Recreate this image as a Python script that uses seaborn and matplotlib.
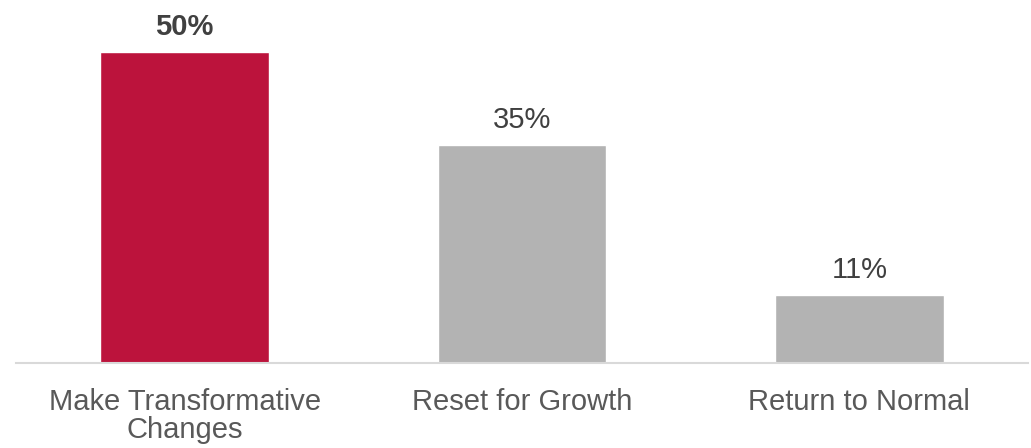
import matplotlib
matplotlib.use("Agg")
import matplotlib.pyplot as plt
import seaborn as sns
import pandas as pd

categories = ["Make Transformative\nChanges", "Reset for Growth", "Return to Normal"]
values = [50, 35, 11]
labels = ["50%", "35%", "11%"]
colors = ["#BC133C", "#B3B3B3", "#B3B3B3"]

sns.set_theme(style="white")
plt.rcParams["font.family"] = ["Liberation Sans", "DejaVu Sans"]

df = pd.DataFrame({"cat": categories, "val": values})

fig = plt.figure(figsize=(10.31, 4.48), dpi=100)
ax = fig.add_axes([16 / 1031, 85 / 448, (1028 - 16) / 1031, 363 / 448])
sns.barplot(data=df, x="cat", y="val", hue="cat", palette=colors, width=0.5,
            legend=False, ax=ax, saturation=1)

ax.set_xlim(-0.5, 2.5)
ax.set_ylim(0, 58.4)
ax.set_xlabel("")
ax.set_ylabel("")
ax.set_yticks([])
for s in ["top", "left", "right"]:
    ax.spines[s].set_visible(False)
ax.spines["bottom"].set_color("#D9D9D9")
ax.spines["bottom"].set_linewidth(1.5)
ax.tick_params(axis="x", length=0, pad=18, labelsize=21, labelcolor="#595959")
for t in ax.get_xticklabels():
    t.set_linespacing(1.0)

for i, (v, lab) in enumerate(zip(values, labels)):
    ax.annotate(lab, xy=(i, v), xytext=(0, 8), textcoords="offset points",
                ha="center", va="bottom", fontsize=21,
                color="#404040",
                fontweight="bold" if i == 0 else "normal")

fig.savefig("out.png", dpi=100)
